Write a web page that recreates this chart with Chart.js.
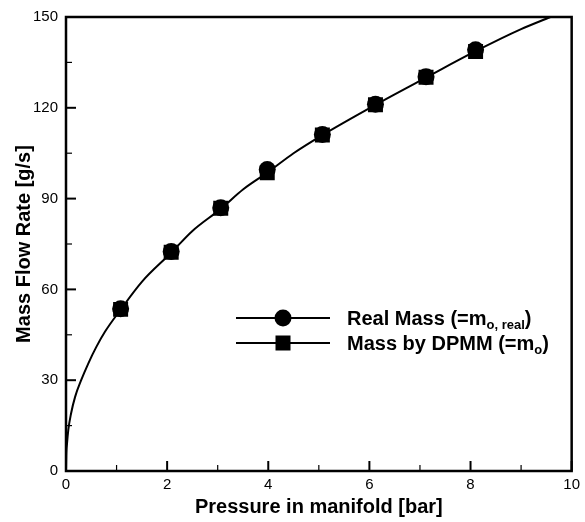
<!DOCTYPE html>
<html>
<head>
<meta charset="utf-8">
<script src="https://cdn.jsdelivr.net/npm/chart.js@4"></script>
<style>
  html, body { margin: 0; padding: 0; background: #fff; }
  #wrap { width: 585px; height: 522px; }
</style>
</head>
<body>
<div id="wrap"><canvas id="chart"></canvas></div>
<script>
// fitted curve
const curveP = [0, 0.005, 0.02, 0.045, 0.1, 0.18, 0.3, 0.44, 0.6, 0.77, 1.08, 1.5, 2.08, 2.5, 3.06, 3.5, 4.0, 4.5, 5.07, 6.12, 7.12, 8.1, 9.0, 9.58]
const curveM = [0, 5, 9, 13.5, 19, 24.5, 30, 35.5, 41, 46, 53.3, 62.5, 72.1, 79.3, 86.6, 93, 98.8, 105, 111, 121, 130, 138.7, 146, 150]

// measured points
const pressure = [1.08, 2.08, 3.06, 3.98, 5.07, 6.12, 7.12, 8.1]
const realMass = [53.6, 72.5, 87, 99.6, 111.2, 121.2, 130.3, 139.2]
const dpmmMass = [53.4, 72.3, 86.8, 98.5, 111, 121, 130.1, 138.6]

const xTicks = [0, 2, 4, 6, 8, 10]
const yTicks = [0, 30, 60, 90, 120, 150]

const toXY = (xs, ys) => xs.map((x, i) => ({ x: x, y: ys[i] }))

const FONT = "'Liberation Sans', Arial, sans-serif"

// box + inward ticks + legend
const framePlugin = {
  id: 'frame',
  afterDatasetsDraw(chart) {
    const { ctx, chartArea: a, scales } = chart
    ctx.save()
    ctx.strokeStyle = '#000'

    // minor / major ticks, pointing inward
    for (let v = 0; v <= 10; v++) {
      const x = scales.x.getPixelForValue(v)
      const major = v % 2 === 0
      ctx.lineWidth = major ? 2 : 1.2
      ctx.beginPath()
      ctx.moveTo(x, a.bottom)
      ctx.lineTo(x, a.bottom - (major ? 10 : 6))
      ctx.stroke()
    }
    for (let v = 0; v <= 150; v += 15) {
      const y = scales.y.getPixelForValue(v)
      const major = v % 30 === 0
      ctx.lineWidth = major ? 2 : 1.2
      ctx.beginPath()
      ctx.moveTo(a.left, y)
      ctx.lineTo(a.left + (major ? 10 : 6), y)
      ctx.stroke()
    }

    ctx.lineWidth = 2.5
    ctx.strokeRect(a.left, a.top, a.right - a.left, a.bottom - a.top)

    // legend
    const items = [
      { y: 318, shape: 'circle', main: 'Real Mass (=m', sub: 'o, real' },
      { y: 343, shape: 'rect', main: 'Mass by DPMM (=m', sub: 'o' }
    ]
    items.forEach(it => {
      ctx.lineWidth = 2
      ctx.beginPath()
      ctx.moveTo(236, it.y)
      ctx.lineTo(330, it.y)
      ctx.stroke()
      ctx.fillStyle = '#000'
      if (it.shape === 'circle') {
        ctx.beginPath()
        ctx.arc(283, it.y, 8.5, 0, Math.PI * 2)
        ctx.fill()
      } else {
        ctx.fillRect(283 - 7.5, it.y - 7.5, 15, 15)
      }
      ctx.textBaseline = 'alphabetic'
      ctx.textAlign = 'left'
      ctx.font = 'bold 20px ' + FONT
      const base = it.y + 7
      ctx.fillText(it.main, 347, base)
      let x = 347 + ctx.measureText(it.main).width
      ctx.font = 'bold 13px ' + FONT
      ctx.fillText(it.sub, x, base + 4)
      x += ctx.measureText(it.sub).width
      ctx.font = 'bold 20px ' + FONT
      ctx.fillText(')', x, base)
    })
    ctx.restore()
  }
}

new Chart(document.getElementById('chart'), {
  type: 'scatter',
  data: {
    datasets: [
      {
        label: 'Real Mass (=m o, real)',
        data: toXY(pressure, realMass),
        pointStyle: 'circle',
        pointRadius: 8.5,
        backgroundColor: '#000',
        borderColor: '#000',
        borderWidth: 0,
        showLine: false,
        order: 1
      },
      {
        label: 'Mass by DPMM (=m o)',
        data: toXY(pressure, dpmmMass),
        pointStyle: 'rect',
        pointRadius: 10.6,
        backgroundColor: '#000',
        borderColor: '#000',
        borderWidth: 0,
        showLine: false,
        order: 0
      },
      {
        label: 'curve',
        data: toXY(curveP, curveM),
        showLine: true,
        pointRadius: 0,
        borderColor: '#000',
        borderWidth: 2,
        cubicInterpolationMode: 'monotone',
        order: 2
      }
    ]
  },
  options: {
    responsive: true,
    maintainAspectRatio: false,
    animation: false,
    events: [],
    layout: { padding: { top: 17, right: 12, left: 0, bottom: 0 } },
    plugins: {
      legend: { display: false },
      tooltip: { enabled: false }
    },
    scales: {
      x: {
        type: 'linear',
        min: 0,
        max: 10,
        afterBuildTicks: s => { s.ticks = xTicks.map(v => ({ value: v })) },
        afterFit: s => { s.height = 51 },
        grid: { display: false, drawTicks: false },
        border: { display: false },
        ticks: { color: '#000', padding: 5, font: { family: FONT, size: 15 } },
        title: {
          display: true,
          text: 'Pressure in manifold [bar]',
          color: '#000',
          font: { family: FONT, size: 20, weight: 'bold' },
          padding: { top: 0, bottom: 3 }
        }
      },
      y: {
        min: 0,
        max: 150,
        afterBuildTicks: s => { s.ticks = yTicks.map(v => ({ value: v })) },
        afterFit: s => { s.width = 66 },
        grid: { display: false, drawTicks: false },
        border: { display: false },
        ticks: { color: '#000', padding: 8, font: { family: FONT, size: 15 } },
        title: {
          display: true,
          text: 'Mass Flow Rate [g/s]',
          color: '#000',
          font: { family: FONT, size: 20, weight: 'bold' },
          padding: { top: 12, bottom: 0 }
        }
      }
    }
  },
  plugins: [framePlugin]
})
</script>
</body>
</html>
